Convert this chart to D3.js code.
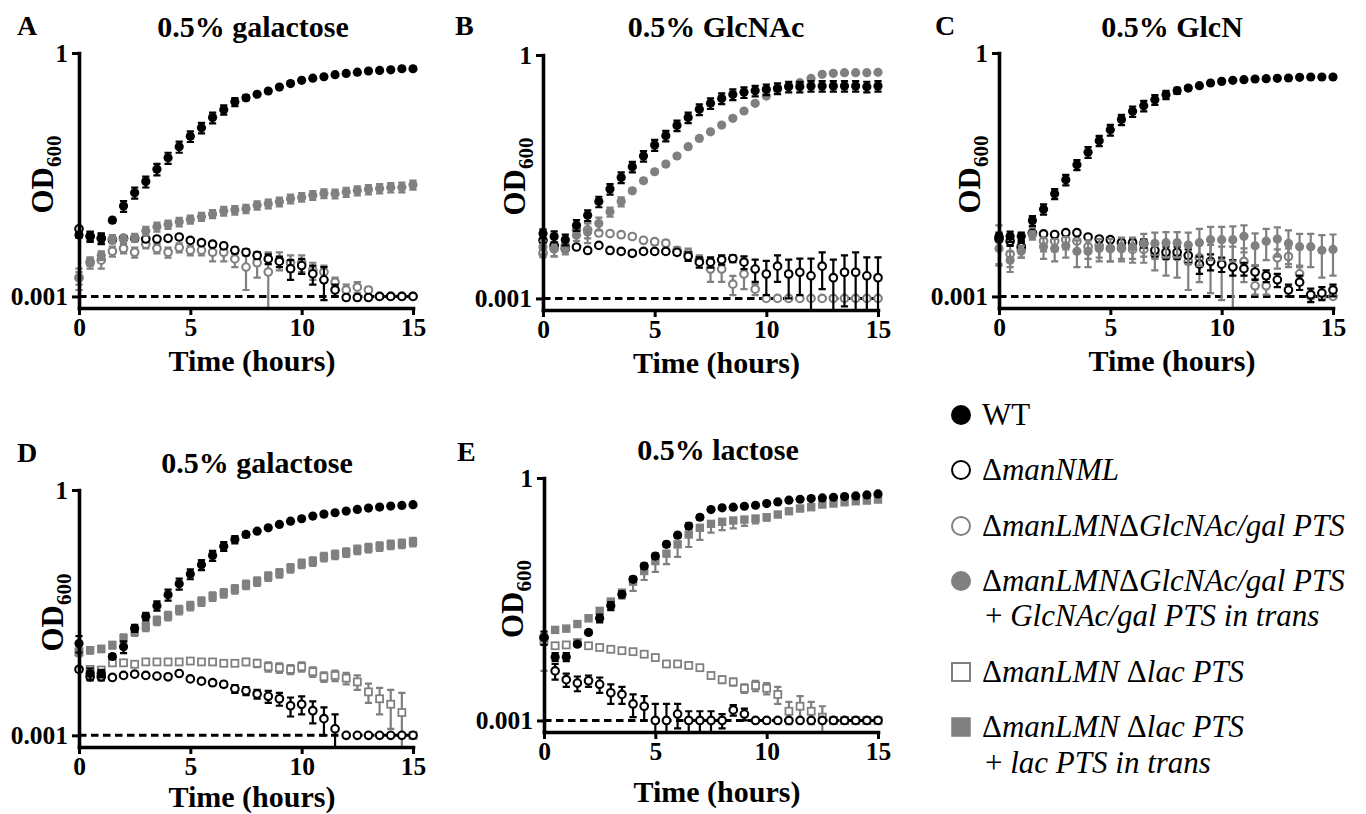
<!DOCTYPE html>
<html lang="en">
<head>
<meta charset="utf-8">
<title>Growth on sugars</title>
<script src="https://cdn.jsdelivr.net/npm/d3@7"></script>
<style>
  body { margin: 0; background: #fff; }
</style>
</head>
<body>
<script>
// sampling times (hours)
const hours = [0,0.5,1,1.5,2,2.5,3,3.5,4,4.5,5,5.5,6,6.5,7,7.5,8,8.5,9,9.5,10,10.5,11,11.5,12,12.5,13,13.5,14,14.5,15]

// ---- A: 0.5% galactose ----
const galA_wt = [0.0057,0.0055,0.0052,0.0087,0.013,0.019,0.026,0.037,0.051,0.07,0.094,0.12,0.16,0.2,0.25,0.28,0.31,0.34,0.38,0.42,0.46,0.49,0.51,0.54,0.56,0.58,0.6,0.61,0.62,0.64,0.64]
const galA_wtSd = [0.0004,0.0008,0.0008,0.0006,0.002,0.003,0.004,0.006,0.008,0.011,0.014,0.018,0.024,0.026,0.028,0.02,0.012,0.01,0.01,0.01,0.01,0.01,0.01,0.01,0.01,0.01,0.01,0.01,0.01,0.01,0.01]
const galA_nml = [0.0068,0.0055,0.0052,0.005,0.0052,0.0052,0.0051,0.0051,0.0052,0.0054,0.0049,0.0046,0.0044,0.0042,0.0037,0.0035,0.0032,0.0029,0.0027,0.0022,0.0024,0.0019,0.0016,0.0012,0.00097,0.00097,0.00097,0.001,0.001,0.001,0.001]
const galA_nmlSd = [0.0003,0.0007,0.0007,0.0003,0.0003,0.0003,0.0003,0.0003,0.0003,0.0003,0.0003,0.0003,0.0003,0.0003,0.0003,0.0003,0.0003,0.0004,0.0004,0.0006,0.0005,0.0005,0.0007,0.0002,0.00005,0.00005,0.00005,0,0,0,0]
const galA_dGal = [0.0017,0.0026,0.0028,0.0036,0.0039,0.0035,0.0044,0.0039,0.0035,0.004,0.0037,0.0037,0.0035,0.0035,0.0029,0.0023,0.0026,0.002,0.0028,0.0026,0.0026,0.0021,0.002,0.0015,0.0012,0.0013,0.0012,0.001,0.001,0.001,0.001]
const galA_dGalSd = [0.0003,0.0004,0.0006,0.0005,0.0005,0.0005,0.0005,0.0005,0.0005,0.0005,0.0005,0.0005,0.0008,0.0008,0.0006,0.0011,0.0009,0.0015,0.0007,0.0006,0.0006,0.0005,0.0004,0.0002,0.0002,0.0002,0.0001,0,0,0,0]
const galA_res = [0.0017,0.0027,0.0032,0.0051,0.0051,0.0053,0.0064,0.0072,0.0077,0.0083,0.0089,0.0096,0.0104,0.0113,0.0116,0.012,0.0133,0.0139,0.0147,0.016,0.0167,0.0177,0.0186,0.0184,0.0193,0.0202,0.0208,0.0214,0.022,0.0222,0.0237]
const galA_resSd = [0.0005,0.0003,0.0004,0.0006,0.0006,0.0006,0.0008,0.0009,0.0009,0.001,0.001,0.0011,0.0012,0.0014,0.0014,0.0014,0.0016,0.0017,0.0018,0.002,0.002,0.0022,0.0023,0.0023,0.0025,0.0026,0.0027,0.0028,0.0029,0.003,0.003]

// ---- B: 0.5% GlcNAc ----
const glcnac_wt = [0.0063,0.0058,0.0053,0.008,0.0106,0.0156,0.0223,0.031,0.042,0.057,0.078,0.101,0.135,0.17,0.214,0.254,0.292,0.327,0.347,0.363,0.377,0.388,0.407,0.407,0.415,0.415,0.415,0.415,0.415,0.407,0.415]
const glcnac_wtSd = [0.0008,0.0009,0.0008,0.0012,0.0016,0.0023,0.0033,0.0047,0.0063,0.0085,0.012,0.015,0.02,0.025,0.032,0.038,0.044,0.049,0.052,0.054,0.056,0.058,0.06,0.06,0.062,0.062,0.062,0.062,0.062,0.061,0.062]
const glcnac_nml = [0.0052,0.0045,0.0041,0.0043,0.0039,0.0045,0.0039,0.0038,0.0036,0.0038,0.0038,0.0038,0.0037,0.0033,0.0028,0.0028,0.003,0.0031,0.0028,0.0023,0.002,0.0025,0.002,0.0021,0.0019,0.0025,0.0018,0.0021,0.0021,0.0019,0.0018]
const glcnac_nmlSd = [0.0003,0.0002,0.0002,0.0002,0.0002,0.0002,0.0002,0.0002,0.0002,0.0002,0.0002,0.0002,0.0002,0.0004,0.0004,0.0004,0.0004,0.0003,0.0005,0.0007,0.0009,0.0009,0.001,0.001,0.0012,0.0012,0.0012,0.0013,0.0016,0.0013,0.0014]
const glcnac_dGal = [0.0036,0.0041,0.0045,0.007,0.007,0.0064,0.0063,0.0061,0.0058,0.0052,0.005,0.0048,0.0039,0.0036,0.003,0.0023,0.0023,0.0015,0.002,0.0013,0.001,0.001,0.001,0.001,0.001,0.001,0.001,0.001,0.001,0.001,0.001]
const glcnac_dGalSd = [0.0004,0.0008,0.0004,0.0008,0.0015,0.0004,0.0004,0.0004,0.0004,0.0004,0.0004,0.0004,0.0004,0.0005,0.0004,0.0007,0.0007,0.0004,0.0007,0.0002,0,0,0,0,0,0,0,0,0,0,0]
const glcnac_res = [0.0043,0.0041,0.0041,0.006,0.0066,0.0084,0.0117,0.0156,0.0212,0.0282,0.0364,0.0453,0.0569,0.0741,0.0938,0.113,0.137,0.166,0.204,0.254,0.312,0.377,0.415,0.456,0.515,0.578,0.594,0.605,0.605,0.605,0.611]
const glcnac_resSd = [0.0008,0.0008,0.0006,0.0009,0.0018,0.0015,0.0015,0.002,0.0013,0.0017,0.002,0.0025,0.003,0.004,0.005,0.006,0.007,0.008,0.01,0.01,0.01,0.01,0.01,0.01,0.01,0.01,0.01,0.01,0.01,0.01,0.01]

// ---- C: 0.5% GlcN ----
const glcn_wt = [0.0055,0.0055,0.0055,0.0086,0.0119,0.0184,0.0274,0.042,0.06,0.083,0.113,0.151,0.191,0.224,0.266,0.306,0.343,0.37,0.396,0.427,0.447,0.46,0.469,0.478,0.483,0.487,0.492,0.501,0.506,0.506,0.506]
const glcn_wtSd = [0.0006,0.0008,0.0006,0.0012,0.0017,0.0026,0.004,0.006,0.009,0.012,0.017,0.022,0.028,0.033,0.036,0.036,0.03,0.02,0.01,0.01,0.01,0.01,0.01,0.01,0.01,0.01,0.01,0.01,0.01,0.01,0.01]
const glcn_nml = [0.0052,0.0048,0.0041,0.006,0.0059,0.0058,0.0061,0.0061,0.0054,0.0051,0.005,0.0046,0.0046,0.0045,0.0037,0.0035,0.0035,0.0032,0.0025,0.0027,0.0025,0.0023,0.0022,0.002,0.0018,0.0016,0.0012,0.0015,0.00105,0.0011,0.0012]
const glcn_nmlSd = [0.0004,0.0006,0.0006,0.0003,0.0003,0.0003,0.0003,0.0003,0.0003,0.0003,0.0003,0.0003,0.0004,0.0005,0.0006,0.0006,0.0006,0.0006,0.0006,0.0006,0.0005,0.0005,0.0004,0.0004,0.0003,0.0003,0.0002,0.0003,0.0002,0.0002,0.0002]
const glcn_dGal = [0.005,0.0033,0.0038,0.006,0.0048,0.0048,0.005,0.0048,0.0041,0.0042,0.0039,0.0039,0.0038,0.0038,0.0033,0.0031,0.0031,0.0027,0.003,0.0027,0.0025,0.0023,0.0027,0.00135,0.00135,0.003,0.0031,0.0019,0.001,0.001,0.001]
const glcn_dGalSd = [0.0025,0.001,0.0008,0.001,0.0012,0.0012,0.0012,0.0012,0.0012,0.0012,0.0012,0.0012,0.0012,0.0012,0.0012,0.0013,0.0014,0.0015,0.0015,0.0016,0.0016,0.0018,0.0012,0.0003,0.0003,0.0008,0.0008,0.0005,0,0,0]
const glcn_res = [0.0039,0.0028,0.0036,0.0058,0.0041,0.0039,0.0042,0.0036,0.0036,0.0039,0.0039,0.0041,0.0041,0.0045,0.0045,0.0046,0.0046,0.0043,0.0046,0.005,0.005,0.005,0.0055,0.0042,0.0048,0.0051,0.0045,0.0041,0.0041,0.0037,0.0038]
const glcn_resSd = [0.0015,0.0008,0.0006,0.0005,0.0012,0.0012,0.0012,0.0013,0.0013,0.0012,0.0012,0.0012,0.0012,0.0014,0.0016,0.0016,0.0016,0.0018,0.0022,0.0022,0.0022,0.0023,0.002,0.0018,0.002,0.002,0.002,0.0018,0.0018,0.002,0.002]

// ---- D: 0.5% galactose (lac PTS strains) ----
const galD_wt = [0.0133,0.0057,0.0057,0.0092,0.0121,0.0204,0.0284,0.0384,0.0524,0.0714,0.094,0.122,0.158,0.205,0.248,0.286,0.314,0.345,0.379,0.416,0.445,0.48,0.507,0.527,0.552,0.579,0.601,0.618,0.636,0.648,0.661]
const galD_wtSd = [0.003,0.0009,0.0006,0.0006,0.002,0.002,0.003,0.005,0.008,0.011,0.013,0.017,0.022,0.025,0.025,0.02,0.01,0.01,0.01,0.01,0.01,0.01,0.01,0.01,0.01,0.01,0.01,0.01,0.01,0.01,0.01]
const galD_nml = [0.0064,0.0052,0.0052,0.0051,0.0054,0.0056,0.0054,0.0053,0.0052,0.0057,0.0049,0.0046,0.0044,0.0042,0.0037,0.0035,0.0032,0.003,0.0028,0.0023,0.0024,0.002,0.0016,0.0012,0.001,0.001,0.001,0.001,0.001,0.001,0.001]
const galD_nmlSd = [0.0004,0.0005,0.0005,0.0002,0.0002,0.0002,0.0002,0.0002,0.0002,0.0002,0.0002,0.0003,0.0003,0.0003,0.0004,0.0004,0.0004,0.0005,0.0005,0.0006,0.0006,0.0006,0.0006,0.0006,0,0,0,0,0,0,0]
const galD_dLac = [0.0105,0.0064,0.0063,0.0077,0.0077,0.0074,0.0079,0.0079,0.0079,0.0079,0.0081,0.0079,0.0079,0.0076,0.0076,0.0079,0.0076,0.0069,0.0067,0.0064,0.0069,0.006,0.0052,0.0054,0.005,0.0045,0.0034,0.0028,0.0024,0.0019,0.001]
const galD_dLacSd = [0.0005,0.0004,0.0004,0.0004,0.0004,0.0004,0.0004,0.0004,0.0004,0.0004,0.0004,0.0004,0.0004,0.0005,0.0005,0.0007,0.0008,0.0009,0.0009,0.0008,0.0009,0.0008,0.0007,0.0008,0.0008,0.0009,0.0009,0.001,0.0012,0.0014,0]
const galD_res = [0.0105,0.011,0.0114,0.0127,0.0154,0.0186,0.0214,0.0253,0.0289,0.0343,0.0384,0.0434,0.0499,0.0548,0.0614,0.0695,0.0763,0.0879,0.0966,0.111,0.126,0.134,0.152,0.162,0.173,0.187,0.196,0.205,0.215,0.221,0.232]
const galD_resSd = [0.0012,0.001,0.001,0.0012,0.0018,0.0022,0.0026,0.003,0.0035,0.0041,0.0046,0.0052,0.006,0.0066,0.0074,0.0083,0.0092,0.0105,0.0116,0.0133,0.0151,0.0161,0.0182,0.0194,0.0208,0.0224,0.0235,0.0246,0.0258,0.0265,0.0278]

// ---- E: 0.5% lactose ----
const lac_wt = [0.0106,0.0061,0.0061,0.0088,0.0123,0.0184,0.0262,0.0364,0.0557,0.0814,0.108,0.151,0.196,0.254,0.327,0.407,0.427,0.435,0.447,0.46,0.483,0.506,0.531,0.546,0.556,0.567,0.578,0.589,0.6,0.617,0.635]
const lac_wtSd = [0.002,0.0007,0.0007,0.0005,0.0006,0.002,0.003,0.003,0.004,0.006,0.008,0.011,0.014,0.02,0.02,0.01,0.01,0.01,0.01,0.01,0.01,0.01,0.01,0.01,0.01,0.01,0.01,0.01,0.01,0.01,0.01]
const lac_nml = [0.0106,0.0041,0.0032,0.0029,0.0031,0.0028,0.0022,0.0021,0.0016,0.0015,0.001,0.001,0.0012,0.001,0.001,0.001,0.001,0.00135,0.0012,0.001,0.001,0.001,0.001,0.001,0.001,0.001,0.001,0.001,0.001,0.001,0.001]
const lac_nmlSd = [0,0.0009,0.0006,0.0006,0.0005,0.0006,0.0006,0.0005,0.0005,0.0005,0.0006,0.0006,0.0004,0.0003,0.0003,0.0003,0.0002,0.0002,0.0002,0,0,0,0,0,0,0,0,0,0,0,0]
const lac_dLac = [0.0097,0.0084,0.0086,0.0092,0.0084,0.008,0.0076,0.0073,0.0071,0.0066,0.006,0.005,0.005,0.0048,0.0045,0.0036,0.0032,0.003,0.0025,0.0027,0.0025,0.0021,0.0013,0.0015,0.0013,0.0011,0.001,0.001,0.001,0.001,0.001]
const lac_dLacSd = [0.0006,0.0003,0.0003,0.0003,0.0003,0.0003,0.0003,0.0003,0.0003,0.0003,0.0003,0.0003,0.0003,0.0003,0.0003,0.0003,0.0003,0.0003,0.0003,0.0004,0.0004,0.0005,0.0004,0.0005,0.0004,0.0004,0,0,0,0,0]
const lac_res = [0.0106,0.0132,0.0137,0.0156,0.0184,0.0227,0.0296,0.0382,0.0522,0.0707,0.0938,0.116,0.151,0.2,0.242,0.271,0.287,0.298,0.306,0.315,0.327,0.353,0.388,0.419,0.435,0.469,0.483,0.501,0.516,0.526,0.541]
const lac_resSd = [0.0065,0.001,0.001,0.001,0.0015,0.003,0.005,0.006,0.012,0.016,0.025,0.03,0.045,0.06,0.07,0.06,0.06,0.06,0.05,0.04,0.03,0.02,0.01,0.01,0.01,0.01,0.01,0.01,0.01,0.01,0.01]

const yTicks = [0.001, 1]
const xTicks = [0, 5, 10, 15]
const detectionLimit = 0.001

// ------------------------------------------------------------
const W = 1366, H = 814
const serif = '"Liberation Serif", "Times New Roman", serif'
const black = "#000"
const gray = "#808080"
const yMin = 0.00072

const svg = d3.select("body").append("svg")
    .attr("width", W).attr("height", H)
    .attr("font-family", serif)

// marker styles
const styles = {
    wt:    {shape: "circle", fill: black, stroke: "none", color: black},
    nml:   {shape: "circle", fill: "#fff", stroke: black, color: black},
    dGal:  {shape: "circle", fill: "#fff", stroke: gray, color: gray},
    resG:  {shape: "circle", fill: gray, stroke: "none", color: gray},
    dLac:  {shape: "square", fill: "#fff", stroke: gray, color: gray},
    resL:  {shape: "square", fill: gray, stroke: "none", color: gray}
}

const panels = [
    {letter: "A", title: "0.5% galactose", left: 79, right: 413, top: 53, bottom: 308,
     titleX: 253, titleY: 37, letterX: 17, letterY: 35, xLabDy: 63, yLabDx: -26,
     series: [[galA_dGal, galA_dGalSd, "dGal"], [galA_nml, galA_nmlSd, "nml"], [galA_res, galA_resSd, "resG"], [galA_wt, galA_wtSd, "wt"]]},
    {letter: "B", title: "0.5% GlcNAc", left: 543, right: 878, top: 55, bottom: 310,
     titleX: 716, titleY: 37, letterX: 455, letterY: 35, xLabDy: 63, yLabDx: -18,
     series: [[glcnac_dGal, glcnac_dGalSd, "dGal"], [glcnac_nml, glcnac_nmlSd, "nml"], [glcnac_res, glcnac_resSd, "resG"], [glcnac_wt, glcnac_wtSd, "wt"]]},
    {letter: "C", title: "0.5% GlcN", left: 999, right: 1333, top: 53, bottom: 308,
     titleX: 1172, titleY: 37, letterX: 935, letterY: 35, xLabDy: 63, yLabDx: -19,
     series: [[glcn_dGal, glcn_dGalSd, "dGal"], [glcn_nml, glcn_nmlSd, "nml"], [glcn_res, glcn_resSd, "resG"], [glcn_wt, glcn_wtSd, "wt"]]},
    {letter: "D", title: "0.5% galactose", left: 79, right: 413, top: 490, bottom: 747,
     titleX: 257, titleY: 473, letterX: 17, letterY: 462, xLabDy: 60, yLabDx: -16,
     series: [[galD_dLac, galD_dLacSd, "dLac"], [galD_nml, galD_nmlSd, "nml"], [galD_res, galD_resSd, "resL"], [galD_wt, galD_wtSd, "wt"]]},
    {letter: "E", title: "0.5% lactose", left: 544, right: 878, top: 478, bottom: 732,
     titleX: 718, titleY: 460, letterX: 457, letterY: 461, xLabDy: 70, yLabDx: -21,
     series: [[lac_dLac, lac_dLacSd, "dLac"], [lac_nml, lac_nmlSd, "nml"], [lac_res, lac_resSd, "resL", "down"], [lac_wt, lac_wtSd, "wt"]]}
]

panels.forEach(p => {
    const x = d3.scaleLinear().domain([0, 15]).range([p.left, p.right])
    const y = d3.scaleLog().domain([yMin, 1]).range([p.bottom, p.top])
    const g = svg.append("g")

    // panel letter + title
    g.append("text").attr("x", p.letterX).attr("y", p.letterY)
        .attr("font-size", 28).attr("font-weight", "bold").text(p.letter)
    g.append("text").attr("x", p.titleX).attr("y", p.titleY)
        .attr("text-anchor", "middle").attr("font-size", 30).attr("font-weight", "bold").text(p.title)

    // detection limit
    g.append("line")
        .attr("x1", x(0)).attr("x2", x(15))
        .attr("y1", y(detectionLimit)).attr("y2", y(detectionLimit))
        .attr("stroke", black).attr("stroke-width", 3).attr("stroke-dasharray", "7.5,4.5")

    // series: error bars then markers
    p.series.forEach(([vals, sds, key, dir]) => {
        const st = styles[key]
        const pts = hours.map((t, i) => ({t: t, v: vals[i], sd: sds[i]}))
        const cap = 3.6
        g.append("g").selectAll("path")
            .data(pts.filter(d => d.sd > 0))
            .join("path")
            .attr("fill", "none").attr("stroke", st.color).attr("stroke-width", 2.2)
            .attr("d", d => {
                const cx = x(d.t)
                const hiV = dir === "down" ? d.v : d.v + d.sd
                const loV = Math.max(d.v - d.sd, yMin)
                const yh = y(hiV), yl = y(loV)
                let s = `M${cx},${yh}V${yl}`
                if (dir !== "down") s += `M${cx - cap},${yh}H${cx + cap}`
                if (loV > yMin) s += `M${cx - cap},${yl}H${cx + cap}`
                return s
            })
        const mg = g.append("g")
        const open = st.fill === "#fff"
        if (st.shape === "circle") {
            mg.selectAll("circle").data(pts).join("circle")
                .attr("cx", d => x(d.t)).attr("cy", d => y(d.v))
                .attr("r", open ? 3.8 : 4.6)
                .attr("fill", st.fill).attr("stroke", st.stroke).attr("stroke-width", open ? 2.1 : 0)
        } else {
            const s = open ? 7 : 8.4
            mg.selectAll("rect").data(pts).join("rect")
                .attr("x", d => x(d.t) - s / 2).attr("y", d => y(d.v) - s / 2)
                .attr("width", s).attr("height", s)
                .attr("fill", st.fill).attr("stroke", st.stroke).attr("stroke-width", open ? 1.8 : 0)
        }
    })

    // axes
    const ya = g.append("g").attr("transform", `translate(${p.left},0)`)
        .call(d3.axisLeft(y).tickValues(yTicks).tickFormat(d => d === 1 ? "1" : "0.001")
            .tickSize(7).tickSizeOuter(0).tickPadding(4))
    const xa = g.append("g").attr("transform", `translate(0,${p.bottom})`)
        .call(d3.axisBottom(x).tickValues(xTicks).tickSize(7).tickSizeOuter(0).tickPadding(3))
    ;[ya, xa].forEach(a => {
        a.attr("font-family", serif).attr("font-size", 25.5).attr("font-weight", "bold")
        a.select(".domain").attr("stroke-width", 3.6).attr("stroke-linecap", "square")
        a.selectAll(".tick line").attr("stroke-width", 3)
        a.selectAll(".tick text").attr("fill", black)
    })

    // axis titles
    g.append("text")
        .attr("x", (p.left + p.right) / 2 + 6).attr("y", p.bottom + p.xLabDy)
        .attr("text-anchor", "middle").attr("font-size", 30).attr("font-weight", "bold")
        .text("Time (hours)")
    const yl = g.append("text")
        .attr("transform", `translate(${p.left + p.yLabDx},${(p.top + p.bottom) / 2 - 6}) rotate(-90)`)
        .attr("text-anchor", "middle").attr("font-size", 31).attr("font-weight", "bold")
    yl.append("tspan").text("OD")
    yl.append("tspan").attr("font-size", 21).attr("dy", 8).text("600")
})

// ---- legend ----
const legendRows = [
    {key: "wt", cy: 415, lines: [[["WT", false]]]},
    {key: "nml", cy: 470, lines: [[["\u0394", false], ["manNML", true]]]},
    {key: "dGal", cy: 526, lines: [[["\u0394", false], ["manLMN", true], ["\u0394", false], ["GlcNAc/gal PTS", true]]]},
    {key: "resG", cy: 581, lines: [[["\u0394", false], ["manLMN", true], ["\u0394", false], ["GlcNAc/gal PTS", true]],
                                   [["+ ", false], ["GlcNAc/gal PTS in trans", true]]]},
    {key: "dLac", cy: 672, lines: [[["\u0394", false], ["manLMN ", true], ["\u0394", false], ["lac PTS", true]]]},
    {key: "resL", cy: 727, lines: [[["\u0394", false], ["manLMN ", true], ["\u0394", false], ["lac PTS", true]],
                                   [["+ ", false], ["lac PTS in trans", true]]]}
]
const lineGap = [0, 0, 0, 35, 0, 36]
const lg = svg.append("g")
legendRows.forEach((row, ri) => {
    const st = styles[row.key]
    const mx = 961
    const open = st.fill === "#fff"
    if (st.shape === "circle") {
        lg.append("circle").attr("cx", mx).attr("cy", row.cy).attr("r", open ? 9 : 10)
            .attr("fill", st.fill).attr("stroke", st.stroke).attr("stroke-width", open ? 2 : 0)
    } else {
        const s = open ? 18 : 19.5
        lg.append("rect").attr("x", mx - s / 2).attr("y", row.cy - s / 2).attr("width", s).attr("height", s)
            .attr("fill", st.fill).attr("stroke", st.stroke).attr("stroke-width", open ? 2 : 0)
    }
    row.lines.forEach((parts, li) => {
        const t = lg.append("text")
            .attr("x", li === 0 ? 982 : 985)
            .attr("y", row.cy + 10 + li * lineGap[ri])
            .attr("font-size", 31)
        parts.forEach(([txt, it]) => {
            t.append("tspan").attr("font-style", it ? "italic" : "normal").text(txt)
        })
    })
})
</script>
</body>
</html>
